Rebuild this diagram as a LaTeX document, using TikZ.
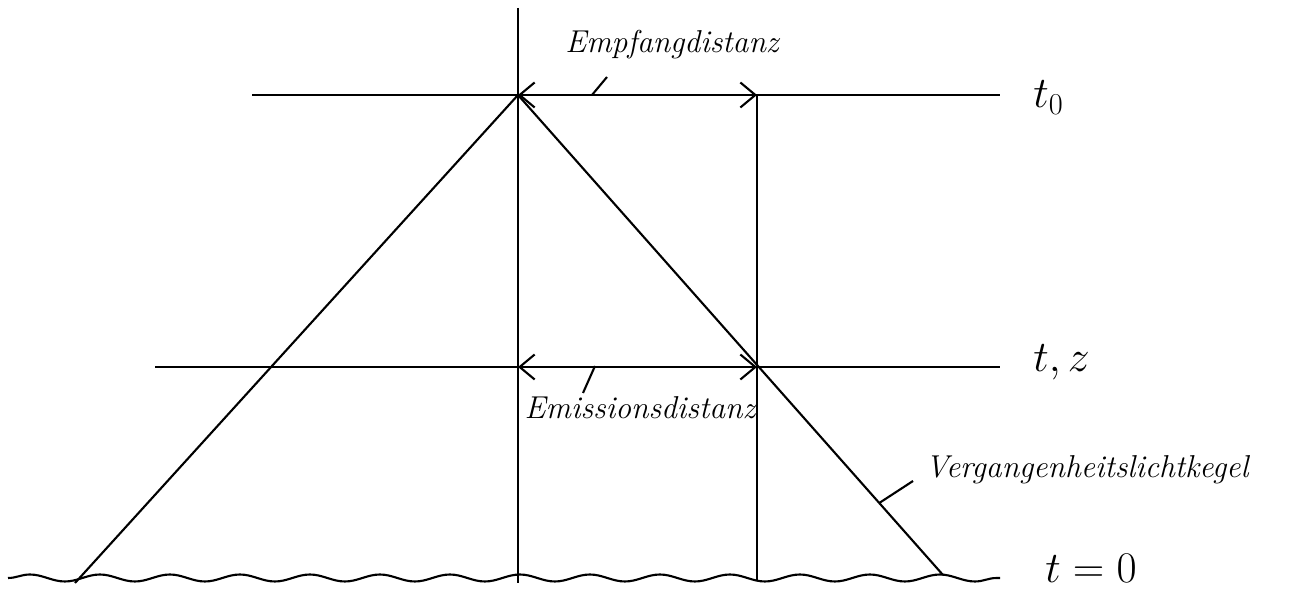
\documentclass[tikz,border=0pt]{standalone}
\usepackage{tikz}
\usetikzlibrary{arrows.meta,positioning,calc,decorations.pathmorphing}
\tikzstyle{worldline} = [line width=1.2pt]
\tikzstyle{distarrow} = [line width=1.2pt, {Straight Barb[length=3mm,width=5mm]}-{Straight Barb[length=3mm,width=5mm]}]
\tikzstyle{pointer} = [line width=1.2pt]
\tikzstyle{handtext} = [font=\fontsize{18}{22}\selectfont\itshape, inner sep=0pt]
\tikzstyle{timetext} = [font=\fontsize{26}{30}\selectfont, inner sep=0pt, anchor=west]

\begin{document}
\begin{tikzpicture}
\useasboundingbox (0,0) rectangle (25.96,11.9);

% Punkte
\coordinate (apex) at (10.36,10.0);
\coordinate (top) at (10.36,11.74);
\coordinate (bottom) at (10.36,0.24);
\coordinate (recv) at (15.14,10.0);
\coordinate (emit) at (15.14,4.56);
\coordinate (rbottom) at (15.14,0.3);
\coordinate (coneleft) at (1.5,0.24);
\coordinate (coneright) at (18.86,0.4);

% Zeitlinien
\coordinate (t0start) at (5.04,10.0);
\coordinate (t0end) at (20.0,10.0);
\coordinate (tzstart) at (3.1,4.56);
\coordinate (tzend) at (20.0,4.56);
\coordinate (wavestart) at (0.16,0.34);
\coordinate (waveend) at (20.0,0.34);

\draw[worldline] (t0start) -- (t0end);
\draw[worldline] (tzstart) -- (tzend);
\draw[worldline, decorate, decoration={snake, amplitude=0.07cm, segment length=1.4cm}] (wavestart) -- (waveend);

\node[timetext] (t0label) at (20.66,9.95) {$t_0$};
\node[timetext] (tzlabel) at (20.66,4.66) {$t,z$};
\node[timetext] (tnull) at (20.9,0.54) {$t=0$};

% Weltlinien
\draw[worldline] (top) -- (bottom);
\draw[worldline] (recv) -- (rbottom);

% Vergangenheitslichtkegel
\draw[worldline] (coneleft) -- (apex) -- (coneright);

% Distanzen
\draw[distarrow] (apex) -- (recv);
\draw[distarrow] ($(apex)!(emit)!(bottom)$) coordinate (emitleft) -- (emit);

% Beschriftungen
\node[handtext] (empfang) at (13.44,11.0) {Empfangdistanz};
\coordinate (empfptr) at (11.84,10.0);
\coordinate (empfptrend) at (12.14,10.36);
\draw[pointer] (empfptr) -- (empfptrend);

\node[handtext] (emission) at (12.8,3.74) {Emissionsdistanz};
\coordinate (emisptr) at (11.9,4.58);
\coordinate (emisptrend) at (11.66,4.04);
\draw[pointer] (emisptr) -- (emisptrend);

\path (apex) -- (coneright) coordinate[pos=0.85] (coneptr);
\coordinate (coneptrend) at (18.26,2.28);
\draw[pointer] (coneptr) -- (coneptrend);
\node[handtext, anchor=west] (kegel) at (18.5,2.5) {Vergangenheitslichtkegel};

\end{tikzpicture}
\end{document}
